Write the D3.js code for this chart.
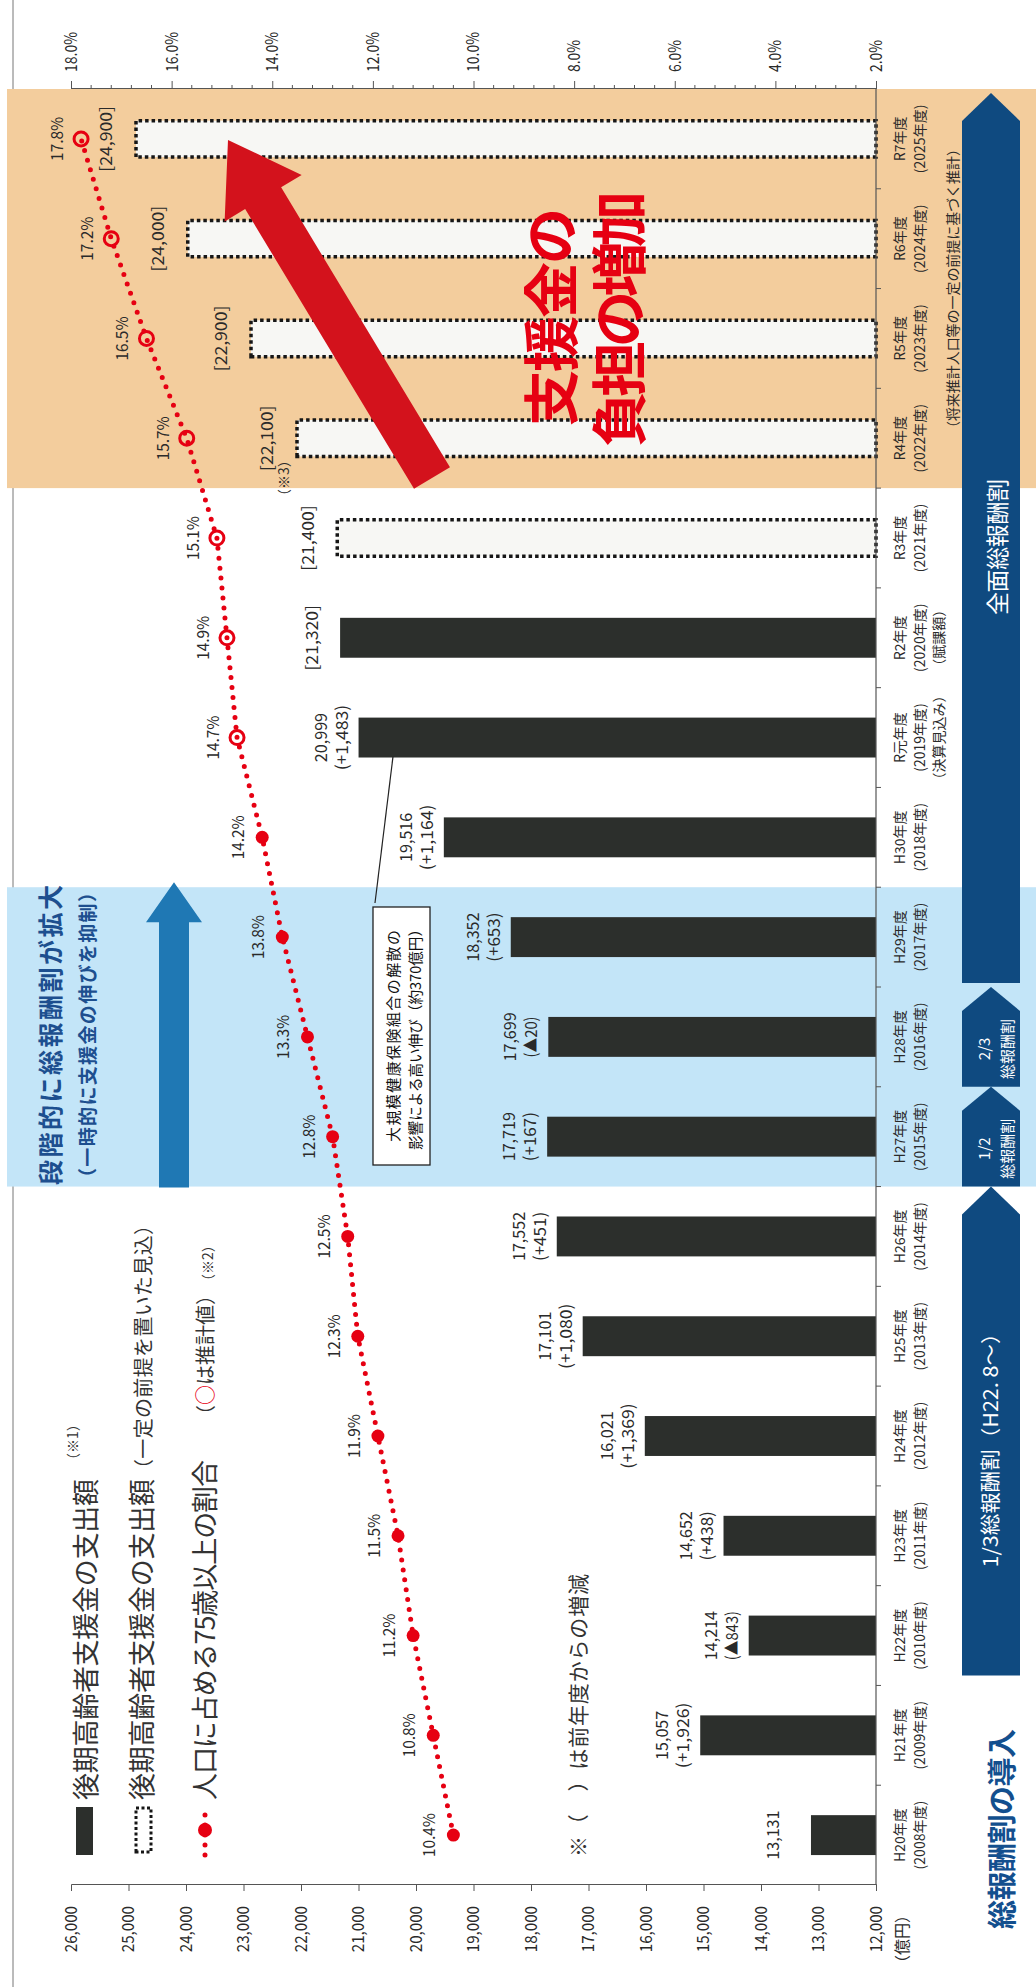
<!DOCTYPE html>
<html>
<head>
<meta charset="utf-8">
<script src="https://cdn.jsdelivr.net/npm/d3@7"></script>
<style>
  html, body { margin: 0; padding: 0; background: #fff; }
  svg { display: block; font-family: "Noto Sans CJK JP", "Noto Sans", sans-serif; }
</style>
</head>
<body>
<svg id="chart" width="1036" height="1987"></svg>
<script>
// ---- data ----
const years = ['H20年度','H21年度','H22年度','H23年度','H24年度','H25年度','H26年度','H27年度','H28年度','H29年度','H30年度','R元年度','R2年度','R3年度','R4年度','R5年度','R6年度','R7年度'];
const fiscal = ['(2008年度)','(2009年度)','(2010年度)','(2011年度)','(2012年度)','(2013年度)','(2014年度)','(2015年度)','(2016年度)','(2017年度)','(2018年度)','(2019年度)','(2020年度)','(2021年度)','(2022年度)','(2023年度)','(2024年度)','(2025年度)'];
const extraNote = ['','','','','','','','','','','','（決算見込み）','（賦課額）','','','','',''];
const spend = [13131,15057,14214,14652,16021,17101,17552,17719,17699,18352,19516,20999,21320,21400,22100,22900,24000,24900];
const change = ['','(+1,926)','(▲843)','(+438)','(+1,369)','(+1,080)','(+451)','(+167)','(▲20)','(+653)','(+1,164)','(+1,483)','','','','','',''];
const dashedBar = [false,false,false,false,false,false,false,false,false,false,false,false,false,true,true,true,true,true];
const bracketLabel = [false,false,false,false,false,false,false,false,false,false,false,false,true,true,true,true,true,true];
const share = [10.4,10.8,11.2,11.5,11.9,12.3,12.5,12.8,13.3,13.8,14.2,14.7,14.9,15.1,15.7,16.5,17.2,17.8];
const shareEstimated = [false,false,false,false,false,false,false,false,false,false,false,true,true,true,true,true,true,true];
const valueTicks = d3.range(12000, 26001, 1000);
const pctTicks = [2,4,6,8,10,12,14,16,18];

// ---- layout (chart drawn unrotated, then turned 90deg) ----
const W = 1987, H = 1036;
const plotLeft = 102, plotRight = 1898, plotTop = 71, plotBase = 876;
const RED = '#e60012', NAVY = '#0f4a80', INK = '#2a2a2a';
// numbers in the source use narrow fixed-width digits: fit each string to a per-char width
const fitNum = (sel, perChar) => sel.attr('textLength', function () { return this.textContent.length * perChar; })
  .attr('lengthAdjust', 'spacingAndGlyphs');

const svg = d3.select('#chart');
const g = svg.append('g').attr('transform', `translate(0,${W}) rotate(-90)`);

const x = d3.scaleBand().domain(years).range([plotLeft, plotRight]).paddingInner(0.6).paddingOuter(0.3);
const step = x.step(), bw = x.bandwidth();
const cx = c => x(c) + bw / 2;
const edge = i => plotLeft + i * step;
const y = d3.scaleLinear().domain([12000, 26000]).range([plotBase, plotTop]);
const y2 = d3.scaleLinear().domain([2, 18]).range([plotBase, plotTop]);

// background periods
g.append('line').attr('x1', 0).attr('x2', W).attr('y1', 13).attr('y2', 13)
  .attr('stroke', '#777').attr('stroke-width', 1);
g.append('rect').attr('x', edge(7)).attr('width', edge(10) - edge(7)).attr('y', 7).attr('height', H - 7)
  .attr('fill', '#c3e5f8');
g.append('rect').attr('x', edge(14)).attr('width', edge(18) - edge(14)).attr('y', 7).attr('height', H - 7)
  .attr('fill', '#f3cd9d');

// bars
years.forEach((c, i) => {
  if (!dashedBar[i]) {
    g.append('rect').attr('x', x(c)).attr('width', bw)
      .attr('y', y(spend[i])).attr('height', plotBase - y(spend[i]))
      .attr('fill', '#2c2f2c');
  } else {
    g.append('rect').attr('x', x(c) + 1.75).attr('width', bw - 3.5)
      .attr('y', y(spend[i]) + 1.75).attr('height', plotBase - y(spend[i]) - 1.75)
      .attr('fill', '#f7f7f4').attr('stroke', '#161616')
      .attr('stroke-width', 3.5).attr('stroke-dasharray', '3.5,3');
  }
});

// value axis (left when unrotated)
const axL = g.append('g').attr('transform', `translate(${plotLeft},0)`)
  .call(d3.axisLeft(y).tickValues(valueTicks).tickFormat(d3.format(',')).tickSize(6).tickPadding(15));
axL.selectAll('path,line').attr('stroke', '#555');
axL.selectAll('text').attr('font-size', 17).attr('fill', INK).attr('font-family', 'Noto Sans CJK JP')
  .call(fitNum, 7.7);
g.append('text').attr('x', 80).attr('y', 908).attr('text-anchor', 'end')
  .attr('font-size', 16).attr('fill', INK).text('（億円）');

// share axis (right when unrotated)
const axR = g.append('g').attr('transform', `translate(${plotRight},0)`)
  .call(d3.axisRight(y2).tickValues(pctTicks).tickFormat(d => d.toFixed(1) + '%').tickSize(8).tickPadding(9));
axR.selectAll('path,line').attr('stroke', '#555');
axR.selectAll('text').attr('font-size', 17).attr('fill', INK).attr('font-family', 'Noto Sans CJK JP')
  .call(fitNum, 8);
const minor = d3.range(20, 181, 4).filter(t => t % 20 !== 0).map(t => t / 10);
g.selectAll('.minor').data(minor).enter().append('line')
  .attr('x1', plotRight).attr('x2', plotRight + 4)
  .attr('y1', d => y2(d)).attr('y2', d => y2(d))
  .attr('stroke', '#555');

// category axis
g.append('line').attr('x1', plotLeft).attr('x2', plotRight).attr('y1', plotBase).attr('y2', plotBase)
  .attr('stroke', '#555').attr('stroke-width', 1.2);
d3.range(1, 18).forEach(i => {
  g.append('line').attr('x1', edge(i)).attr('x2', edge(i)).attr('y1', plotBase).attr('y2', plotBase + 5)
    .attr('stroke', '#555');
});
years.forEach((c, i) => {
  const t = g.append('text').attr('text-anchor', 'middle').attr('font-size', 14).attr('fill', INK);
  t.append('tspan').attr('x', cx(c)).attr('y', 905).text(c);
  t.append('tspan').attr('x', cx(c)).attr('y', 925).text(fiscal[i]);
  if (extraNote[i]) t.append('tspan').attr('x', cx(c)).attr('y', 944).text(extraNote[i]);
});
g.append('text').attr('x', (cx('R4年度') + cx('R7年度')) / 2).attr('y', 958)
  .attr('text-anchor', 'middle').attr('font-size', 14).attr('fill', INK)
  .attr('textLength', 293).attr('lengthAdjust', 'spacing')
  .text('（将来推計人口等の一定の前提に基づく推計）');

// bar value labels
years.forEach((c, i) => {
  const barTop = y(spend[i]);
  const add = (txt, off) => g.append('text').attr('x', cx(c)).attr('y', barTop - off)
    .attr('text-anchor', 'middle').attr('font-size', 16.5).attr('fill', INK).text(txt).call(fitNum, 8.2);
  if (bracketLabel[i]) {
    add('[' + d3.format(',')(spend[i]) + ']', 22);
  } else {
    add(d3.format(',')(spend[i]), 32);
    if (change[i]) add(change[i], 11);
  }
});
g.append('text').attr('x', cx('R3年度') + 35).attr('y', y(spend[13]) - 47)
  .attr('font-size', 14).attr('fill', INK).text('（※3）');

// share line
const pts = years.map((c, i) => ({ c, p: share[i], est: shareEstimated[i] }));
g.append('path').datum(pts)
  .attr('d', d3.line().x(d => cx(d.c)).y(d => y2(d.p)))
  .attr('fill', 'none').attr('stroke', RED).attr('stroke-width', 5)
  .attr('stroke-linecap', 'round').attr('stroke-dasharray', '0,10');
g.selectAll('.mk').data(pts).enter().append('circle')
  .attr('cx', d => cx(d.c)).attr('cy', d => y2(d.p)).attr('r', d => d.est ? 7 : 6.5)
  .attr('fill', d => d.est ? 'none' : RED)
  .attr('stroke', RED).attr('stroke-width', d => d.est ? 3 : 0);
g.selectAll('.pl').data(pts).enter().append('text')
  .attr('x', d => cx(d.c)).attr('y', d => y2(d.p) - 18)
  .attr('text-anchor', 'middle').attr('font-size', 16).attr('fill', INK)
  .text(d => d.p.toFixed(1) + '%').call(fitNum, 8.8);

// callout box for R元
g.append('line').attr('x1', 1084).attr('y1', 375).attr('x2', x('R元年度') + 1).attr('y2', 393)
  .attr('stroke', '#222').attr('stroke-width', 1.2);
g.append('rect').attr('x', 822).attr('y', 373).attr('width', 258).attr('height', 57)
  .attr('fill', '#fff').attr('stroke', '#222').attr('stroke-width', 1.3);
g.append('text').attr('x', 951).attr('y', 399).attr('text-anchor', 'middle')
  .attr('font-size', 15).attr('fill', '#111').attr('textLength', 212).attr('lengthAdjust', 'spacing')
  .text('大規模健康保険組合の解散の');
g.append('text').attr('x', 951).attr('y', 421).attr('text-anchor', 'middle')
  .attr('font-size', 15).attr('fill', '#111').attr('textLength', 228).attr('lengthAdjust', 'spacingAndGlyphs')
  .text('影響による高い伸び（約370億円）');

// navy phase arrows
const v0 = 962, v1 = 1020, vc = (v0 + v1) / 2;
function phaseArrow(u0, u1, head) {
  g.append('path')
    .attr('d', `M${u0},${v0}L${u1 - head},${v0}L${u1},${vc}L${u1 - head},${v1}L${u0},${v1}Z`)
    .attr('fill', NAVY);
}
phaseArrow(edge(2.1), edge(7), 28);
phaseArrow(edge(7), edge(8), 24);
phaseArrow(edge(8), edge(9), 24);
phaseArrow(edge(9) + 4, plotRight - 4, 28);
g.append('text').attr('x', (edge(2.1) + edge(7) - 28) / 2).attr('y', 998).attr('text-anchor', 'middle')
  .attr('font-size', 20).attr('fill', '#fff').attr('textLength', 245).attr('lengthAdjust', 'spacingAndGlyphs')
  .text('1/3総報酬割（H22. 8〜）');
[[7, '1/2'], [8, '2/3']].forEach(([i, f]) => {
  const m = (edge(i) + edge(i + 1) - 24) / 2;
  const t = g.append('text').attr('text-anchor', 'middle').attr('font-size', 15).attr('fill', '#fff');
  t.append('tspan').attr('x', m).attr('y', 990).text(f);
  t.append('tspan').attr('x', m).attr('y', 1013).text('総報酬割');
});
g.append('text').attr('x', 1440).attr('y', 1006).attr('text-anchor', 'middle')
  .attr('font-size', 23).attr('fill', '#fff').attr('textLength', 136).attr('lengthAdjust', 'spacing')
  .text('全面総報酬割');

// blue "stepwise" arrow and texts
{
  const u0 = edge(7) - 1, u1 = edge(10) + 5, hl = 40, c = 174;
  g.append('path')
    .attr('d', `M${u0},${c - 15}L${u1 - hl},${c - 15}L${u1 - hl},${c - 28}L${u1},${c}L${u1 - hl},${c + 28}L${u1 - hl},${c + 15}L${u0},${c + 15}Z`)
    .attr('fill', '#1f78b4');
  g.append('text').attr('x', 802).attr('y', 60).attr('font-size', 25).attr('font-weight', 'bold')
    .attr('fill', '#1d4f8f').attr('textLength', 300).attr('lengthAdjust', 'spacing')
    .text('段階的に総報酬割が拡大');
  g.append('text').attr('x', 800).attr('y', 95).attr('font-size', 19).attr('font-weight', 'bold')
    .attr('fill', '#1d4f8f').attr('textLength', 304).attr('lengthAdjust', 'spacing')
    .text('（一時的に支援金の伸びを抑制）');
}

// red "burden increase" arrow and text
{
  const tail = [1509, 432], tip = [1847, 228];
  const dx = tip[0] - tail[0], dy = tip[1] - tail[1], L = Math.hypot(dx, dy);
  const d = [dx / L, dy / L], n = [-d[1], d[0]];
  const sw = 21, hw = 45, hl = 68;
  const neck = [tip[0] - d[0] * hl, tip[1] - d[1] * hl];
  const P = (p, k) => [p[0] + n[0] * k, p[1] + n[1] * k];
  const poly = [P(tail, sw), P(neck, sw), P(neck, hw), tip, P(neck, -hw), P(neck, -sw), P(tail, -sw)];
  g.append('polygon').attr('points', poly.map(p => p.join(',')).join(' ')).attr('fill', '#d3121c');
  g.append('text').attr('x', 1670).attr('y', 572).attr('text-anchor', 'middle')
    .attr('font-size', 56).attr('font-weight', 'bold').attr('fill', RED)
    .attr('textLength', 218).attr('lengthAdjust', 'spacing').text('支援金の');
  g.append('text').attr('x', 1668).attr('y', 640).attr('text-anchor', 'middle')
    .attr('font-size', 56).attr('font-weight', 'bold').attr('fill', RED)
    .attr('textLength', 256).attr('lengthAdjust', 'spacing').text('負担の増加');
}

// legend
g.append('rect').attr('x', 132).attr('y', 76).attr('width', 48).attr('height', 17).attr('fill', '#2c2f2c');
g.append('rect').attr('x', 135).attr('y', 136).attr('width', 44).attr('height', 15)
  .attr('fill', '#fff').attr('stroke', '#161616').attr('stroke-width', 3).attr('stroke-dasharray', '3,2.5');
g.append('line').attr('x1', 132).attr('x2', 182).attr('y1', 205).attr('y2', 205)
  .attr('stroke', RED).attr('stroke-width', 5).attr('stroke-linecap', 'round').attr('stroke-dasharray', '0,10');
g.append('circle').attr('cx', 157).attr('cy', 205).attr('r', 7).attr('fill', RED);

g.append('text').attr('x', 187).attr('y', 96).attr('font-size', 27).attr('fill', '#333')
  .attr('textLength', 321).attr('lengthAdjust', 'spacing').text('後期高齢者支援金の支出額');
g.append('text').attr('x', 520).attr('y', 78).attr('font-size', 14).attr('fill', '#333').text('（※1）');
g.append('text').attr('x', 187).attr('y', 152).attr('font-size', 27).attr('fill', '#333')
  .attr('textLength', 321).attr('lengthAdjust', 'spacing').text('後期高齢者支援金の支出額');
g.append('text').attr('x', 508).attr('y', 151).attr('font-size', 20).attr('fill', '#333')
  .attr('textLength', 264).attr('lengthAdjust', 'spacing').text('（一定の前提を置いた見込）');
g.append('text').attr('x', 187).attr('y', 215).attr('font-size', 27).attr('fill', '#333')
  .attr('textLength', 340).attr('lengthAdjust', 'spacing').text('人口に占める75歳以上の割合');
{
  const t = g.append('text').attr('x', 562).attr('y', 213).attr('font-size', 20).attr('fill', '#333');
  t.append('tspan').text('（');
  t.append('tspan').attr('fill', RED).text('○');
  t.append('tspan').text('は推計値）');
  t.append('tspan').attr('font-size', 14).attr('dx', 4).text('（※2）');
}
g.append('text').attr('x', 130).attr('y', 586).attr('font-size', 21).attr('fill', '#333')
  .attr('textLength', 283).attr('lengthAdjust', 'spacing').text('※（　）は前年度からの増減');

// title
g.append('text').attr('x', 158).attr('y', 1013).attr('text-anchor', 'middle')
  .attr('font-size', 29).attr('font-weight', 'bold').attr('fill', '#134f8e')
  .attr('textLength', 200).attr('lengthAdjust', 'spacing').text('総報酬割の導入');
</script>
</body>
</html>
